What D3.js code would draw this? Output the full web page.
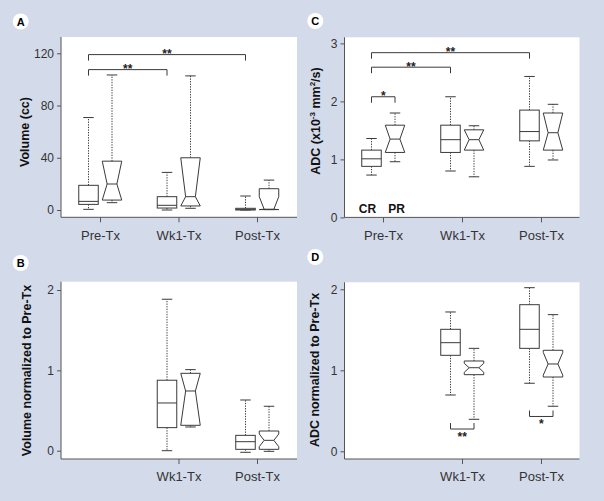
<!DOCTYPE html>
<html><head><meta charset="utf-8">
<script src="https://cdn.jsdelivr.net/npm/d3@7"></script>
<style>
html,body{margin:0;padding:0;background:#d3dbeb;}
svg{display:block;font-family:"Liberation Sans",Arial,Helvetica,sans-serif;}
</style></head><body>
<svg id="chart" width="604" height="501"></svg>
<script>
// ---------- DATA ----------
const groups = ["Pre-Tx", "Wk1-Tx", "Post-Tx"];
const normGroups = ["Wk1-Tx", "Post-Tx"];
// each box: [min, q1, median, q3, max]
const volCR = [[0.5, 4.3, 6.6, 18.9, 70.8], [0, 1.5, 3.6, 10.2, 28.8], [0, 0, 0.5, 1.3, 10.7]];
const volPR = [[5.6, 7.6, 19.9, 37.4, 103.4], [1.3, 3.1, 10.2, 40, 102.7], [0.3, 0.3, 0.6, 16.3, 22.9]];
const volPRNotch = [[0, 60], [0, 60], [-8, 10.2]];
const normVolCR = [[0, 0.287, 0.594, 0.877, 1.885], [-0.02, 0.017, 0.112, 0.191, 0.631]];
const normVolPR = [[0.295, 0.316, 0.743, 0.963, 1.009], [-0.008, 0.017, 0.129, 0.245, 0.553]];
const normVolPRNotch = [[0, 2], [0.05, 0.208]];
const adcCR = [[0.73, 0.88, 1.01, 1.16, 1.36], [0.80, 1.12, 1.34, 1.59, 2.08], [0.88, 1.32, 1.48, 1.85, 2.43]];
const adcPR = [[0.96, 1.12, 1.35, 1.59, 1.80], [0.70, 1.16, 1.34, 1.51, 1.58], [0.99, 1.16, 1.46, 1.80, 1.95]];
const adcPRNotch = [[0, 3], [0, 3], [0, 3]];
const normAdcCR = [[0.695, 1.185, 1.341, 1.506, 1.72], [0.84, 1.271, 1.506, 1.81, 2.02]];
const normAdcPR = [[0.395, 0.946, 1.032, 1.115, 1.271], [0.556, 0.917, 1.078, 1.247, 1.687]];
const normAdcPRNotch = [[0.975, 1.086], [0.94, 1.22]];
const volTicks = [0, 40, 80, 120];
const normTicks = [0, 1, 2];
const adcTicks = [0, 1, 2, 3];
// significance brackets: [fromGroup, fromSeries, toGroup, toSeries, value, label]
const volSig = [["Pre-Tx", "CR", "Post-Tx", "CR", 119, "**"], ["Pre-Tx", "CR", "Wk1-Tx", "CR", 107.5, "**"]];
const adcSig = [["Pre-Tx", "CR", "Post-Tx", "CR", 2.84, "**"], ["Pre-Tx", "CR", "Wk1-Tx", "CR", 2.59, "**"], ["Pre-Tx", "CR", "Pre-Tx", "PR", 2.08, "*"]];
const normAdcSig = [["Wk1-Tx", "CR", "Wk1-Tx", "PR", 0.275, "**"], ["Post-Tx", "CR", "Post-Tx", "PR", 0.43, "*"]];

// ---------- DRAW ----------
const svg = d3.select("#chart");
const AX = "#555", BOX = "#3a3a3a", TXT = "#333";
const OFF = {CR: -11.5, PR: 12};
const BW = 19.5, CAP = 10.5, NARROW = 0.5;

function panel(cfg) {
  const g = svg.append("g");
  g.append("rect").attr("x", cfg.left).attr("y", cfg.top)
    .attr("width", cfg.right - cfg.left).attr("height", cfg.bottom - cfg.top).attr("fill", "#fff");
  const x = d3.scalePoint().domain(groups).range(cfg.xr);
  const y = d3.scaleLinear().domain(cfg.yd).range(cfg.yr);
  const bx = (grp, s) => x(grp) + OFF[s];

  // y axis
  const ya = g.append("g").attr("transform", `translate(${cfg.left},0)`)
    .call(d3.axisLeft(y).tickValues(cfg.ticks).tickSize(4).tickPadding(3).tickFormat(d3.format("d")));
  ya.select(".domain").remove();
  ya.selectAll("line").attr("stroke", AX);
  ya.selectAll("text").attr("fill", TXT).style("font-size", "12px").style("font-family", "Liberation Sans, Arial, sans-serif");
  g.append("line").attr("x1", cfg.left).attr("x2", cfg.left).attr("y1", cfg.top).attr("y2", cfg.bottom).attr("stroke", AX);
  // x axis
  const xa = g.append("g").attr("transform", `translate(0,${cfg.bottom})`)
    .call(d3.axisBottom(x).tickValues(cfg.xGroups).tickSize(5).tickPadding(8));
  xa.select(".domain").remove();
  xa.selectAll("line").attr("stroke", AX);
  xa.selectAll("text").attr("fill", TXT).style("font-size", "13px").style("font-family", "Liberation Sans, Arial, sans-serif");
  g.append("line").attr("x1", cfg.left).attr("x2", cfg.right).attr("y1", cfg.bottom).attr("y2", cfg.bottom).attr("stroke", AX);

  // boxes
  const drawBox = (grp, s, d, notch) => {
    const cx = bx(grp, s);
    const [mn, q1, md, q3, mx] = d;
    const wg = g.append("g").attr("stroke", BOX).attr("fill", "none");
    wg.append("line").attr("x1", cx).attr("x2", cx).attr("y1", y(q3)).attr("y2", y(mx)).attr("stroke-dasharray", "1.3,1.3");
    wg.append("line").attr("x1", cx).attr("x2", cx).attr("y1", y(q1)).attr("y2", y(mn)).attr("stroke-dasharray", "1.3,1.3");
    [mn, mx].forEach(v => wg.append("line").attr("x1", cx - CAP / 2).attr("x2", cx + CAP / 2).attr("y1", y(v)).attr("y2", y(v)));
    const L = cx - BW / 2, R = cx + BW / 2;
    if (!notch) {
      wg.append("rect").attr("x", L).attr("y", y(q3)).attr("width", BW).attr("height", Math.max(0.5, y(q1) - y(q3))).attr("fill", "#fff");
      wg.append("line").attr("x1", L).attr("x2", R).attr("y1", y(md)).attr("y2", y(md));
    } else {
      const hi = Math.min(q3, notch[1]), lo = Math.max(q1, notch[0]);
      const Ln = cx - BW * NARROW / 2, Rn = cx + BW * NARROW / 2;
      const pts = [[L, y(q3)], [L, y(hi)], [Ln, y(md)], [L, y(lo)], [L, y(q1)], [R, y(q1)], [R, y(lo)], [Rn, y(md)], [R, y(hi)], [R, y(q3)]];
      wg.append("path").attr("d", d3.line()(pts) + "Z").attr("fill", "#fff");
      wg.append("line").attr("x1", Ln).attr("x2", Rn).attr("y1", y(md)).attr("y2", y(md));
    }
  };
  cfg.dataGroups.forEach((grp, i) => {
    drawBox(grp, "CR", cfg.cr[i], null);
    drawBox(grp, "PR", cfg.pr[i], cfg.notch[i]);
  });

  // significance brackets
  (cfg.sig || []).forEach(([g1, s1, g2, s2, v, lab]) => {
    const x1 = bx(g1, s1), x2 = bx(g2, s2), yy = y(v);
    const t = cfg.sigDir * 6;
    g.append("path").attr("d", `M${x1},${yy + t}V${yy}H${x2}V${yy + t}`).attr("fill", "none").attr("stroke", BOX);
    g.append("text").attr("x", (x1 + x2) / 2).attr("y", cfg.sigDir > 0 ? yy + 3.5 : yy + 11.5)
      .attr("text-anchor", "middle").attr("fill", "#222").style("font-size", "12px").style("font-weight", "bold").text(lab);
  });

  // y label
  const yl = g.append("text").attr("transform", `translate(${cfg.labX},${cfg.labY}) rotate(-90)`)
    .attr("text-anchor", "middle").attr("dominant-baseline", "central")
    .attr("fill", "#111").style("font-size", "12.5px").style("font-weight", "bold");
  if (cfg.ylabParts) {
    cfg.ylabParts.forEach(p => {
      const ts = yl.append("tspan").text(p[0]);
      if (p[1]) ts.attr("dy", -4).style("font-size", "8px");
      else if (p[2]) ts.attr("dy", 4);
    });
  } else yl.text(cfg.ylab);

  // panel letter
  g.append("circle").attr("cx", cfg.cx).attr("cy", cfg.cy).attr("r", 8).attr("fill", "#fff");
  g.append("text").attr("x", cfg.cx).attr("y", cfg.cy + 4).attr("text-anchor", "middle")
    .attr("fill", "#000").style("font-size", "11px").style("font-weight", "bold").text(cfg.id);
  return {g, x, y, bx};
}

panel({id: "A", cx: 20.7, cy: 21.5, left: 61, right: 297, top: 37, bottom: 217.3,
  xr: [100, 257], yd: [0, 120], yr: [210, 53.3], ticks: volTicks, xGroups: groups,
  dataGroups: groups, cr: volCR, pr: volPR, notch: volPRNotch, sig: volSig, sigDir: 1,
  ylab: "Volume (cc)", labX: 24.5, labY: 132});

panel({id: "B", cx: 20.7, cy: 263, left: 61, right: 297, top: 281.7, bottom: 459,
  xr: [100, 257], yd: [0, 2], yr: [450.7, 290], ticks: normTicks, xGroups: normGroups,
  dataGroups: normGroups, cr: normVolCR, pr: normVolPR, notch: normVolPRNotch, sig: [], sigDir: 1,
  ylab: "Volume normalized to Pre-Tx", labX: 26.5, labY: 370.5});

const pc = panel({id: "C", cx: 315.3, cy: 21, left: 344.5, right: 579.5, top: 37.3, bottom: 217.4,
  xr: [383, 541], yd: [0, 3], yr: [217.4, 43.4], ticks: adcTicks, xGroups: groups,
  dataGroups: groups, cr: adcCR, pr: adcPR, notch: adcPRNotch, sig: adcSig, sigDir: 1,
  ylabParts: [["ADC (x10"], ["-3", true], [" mm", false, true], ["2", true], ["/s)", false, true]],
  labX: 315.5, labY: 121});
pc.g.append("text").attr("x", pc.bx("Pre-Tx", "CR") - 4).attr("y", 213).attr("text-anchor", "middle")
  .attr("fill", "#111").style("font-size", "12px").style("font-weight", "bold").text("CR");
pc.g.append("text").attr("x", pc.bx("Pre-Tx", "PR") + 1.5).attr("y", 213).attr("text-anchor", "middle")
  .attr("fill", "#111").style("font-size", "12px").style("font-weight", "bold").text("PR");

panel({id: "D", cx: 315.3, cy: 257, left: 344.5, right: 579.5, top: 282.3, bottom: 459,
  xr: [383, 541], yd: [0, 2], yr: [451.3, 289.3], ticks: normTicks, xGroups: normGroups,
  dataGroups: normGroups, cr: normAdcCR, pr: normAdcPR, notch: normAdcPRNotch, sig: normAdcSig, sigDir: -1,
  ylab: "ADC normalized to Pre-Tx", labX: 315.3, labY: 370});
</script></body></html>
